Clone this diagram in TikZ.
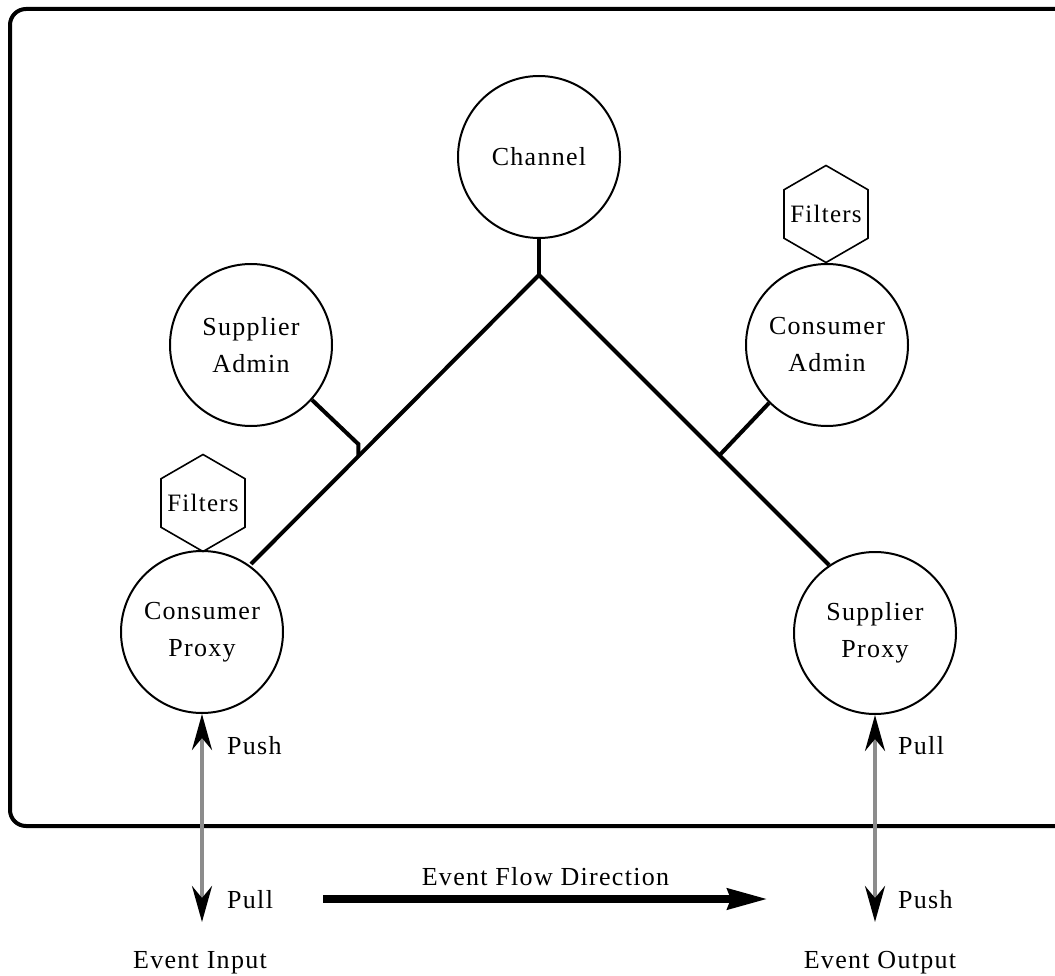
\documentclass[tikz,border=0pt]{standalone}
\usepackage{fontspec}
\setmainfont{Liberation Serif}[LetterSpace=5]
\usetikzlibrary{shapes.geometric,arrows.meta,calc}
\begin{document}
\begin{tikzpicture}[x=1pt,y=-1pt,
  lbl/.style={font=\fontsize{26}{37}\selectfont, inner sep=0pt},
  circ/.style={circle,draw,line width=2pt,minimum size=162pt,inner sep=0pt,align=center,font=\fontsize{26}{37}\selectfont},
  hexa/.style={regular polygon,regular polygon sides=6,shape border rotate=30,draw,line width=1.6pt,minimum size=97pt,inner sep=0pt,font=\fontsize{25}{30}\selectfont},
  conn/.style={line width=4pt},
  io/.style={draw=gray!90,line width=4pt,{Stealth[black,length=36pt,width=20pt,inset=12pt]}-{Stealth[black,length=36pt,width=20pt,inset=12pt]}},
  flow/.style={line width=8pt,-{Stealth[length=40pt,width=20pt,inset=3pt]}}
]
\useasboundingbox (0,0) rectangle (1055,976);
% frame
\draw[line width=4pt, rounded corners=16pt] (1056,9) -- (10,9) -- (10,826) -- (1056,826);

% nodes
\node[circ] (ch) at (539,157) {Channel};
\node[circ] (sa) at (251,345) {Supplier\\Admin};
\node[circ] (ca) at (827,345) {Consumer\\Admin};
\node[circ] (cp) at (202,632) {Consumer\\Proxy};
\node[circ] (sp) at (875,633) {Supplier\\Proxy};
\node[hexa] (f1) at (203,503) {\makebox[0pt]{Filters}};
\node[hexa] (f2) at (826,214) {\makebox[0pt]{Filters}};

% connectors
\coordinate (J) at (539,275);
\coordinate (cpE) at (251,564);
\coordinate (spE) at (829,565);
\draw[conn] (ch.south) -- (J);
\draw[conn,line join=miter] (cpE) -- (J) -- (spE);
\coordinate (jl) at ($(J)!0.627!(cpE)$);
\coordinate (jr) at ($(J)!0.622!(spE)$);
\draw[conn] (sa.-42) -- ($(jl)+(0,-12)$) -- (jl);
\draw[conn] (ca.-135) -- (jr);

% input / output arrows
\coordinate (inT) at (202,922);
\coordinate (outT) at (875,922);
\draw[io] (cp.south) -- (inT);
\draw[io] (sp.south) -- (outT);

\node[lbl, anchor=west] (push1) at (227,746) {Push};
\node[lbl, anchor=west] (pull1) at (227,900) {Pull};
\node[lbl] (ein) at (200,963) {Event Input};
\node[lbl, anchor=west] (pull2) at (898,746) {Pull};
\node[lbl, anchor=west] (push2) at (898,900) {Push};
\node[lbl] (eout) at (880,963) {Event Output};

% flow arrow
\coordinate (fs) at (323,899);
\coordinate (fe) at (768,899);
\draw[flow] (fs) -- (fe) node[midway, above=9pt, lbl] (flbl) {Event Flow Direction};
\end{tikzpicture}
\end{document}
